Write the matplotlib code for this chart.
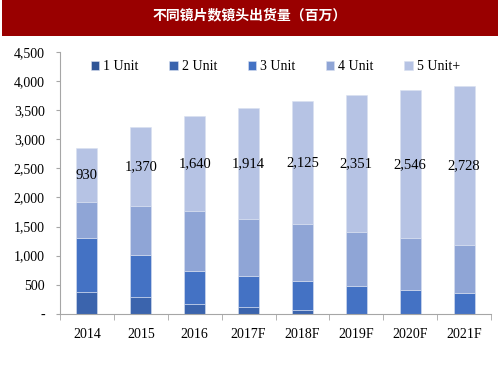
import matplotlib
import matplotlib.pyplot as plt
import numpy as np
from matplotlib.patches import Rectangle

matplotlib.use('Agg')

years = ['2014', '2015', '2016', '2017F', '2018F', '2019F', '2020F', '2021F']
series_names = ['1 Unit', '2 Unit', '3 Unit', '4 Unit', '5 Unit+']
unit1 = [0, 0, 0, 0, 0, 0, 0, 0]
unit2 = [370, 290, 170, 115, 60, 0, 0, 0]
unit3 = [937, 715, 565, 539, 503, 482, 408, 351]
unit4 = [609, 843, 1032, 970, 975, 929, 889, 831]
unit5 = [930, 1370, 1640, 1914, 2125, 2351, 2546, 2728]
colors = ['#2F5597', '#3B64AD', '#4472C4', '#8FA5D6', '#B6C3E4']

yticks = [0, 500, 1000, 1500, 2000, 2500, 3000, 3500, 4000, 4500]
ytick_labels = ['-', '500', '1,000', '1,500', '2,000', '2,500', '3,000', '3,500', '4,000', '4,500']

plt.rcParams['font.family'] = ['Liberation Serif', 'DejaVu Serif']

fig = plt.figure(figsize=(5, 3.75), dpi=100)
ax = fig.add_axes([0.12, 0.1635, 0.862, 0.6975])

# red title banner
fig.patches.append(Rectangle((0.004, 0.904), 0.992, 0.096, transform=fig.transFigure,
                             facecolor='#990000', edgecolor='none'))
fig.text(0.5, 0.958, '不同镜片数镜头出货量（百万）', color='white', fontsize=10,
         fontweight='bold', ha='center', va='center',
         family=['Noto Sans CJK SC', 'DejaVu Sans'])

x = np.arange(len(years))
bottom = np.zeros(len(years))
for name, vals, c in zip(series_names, [unit1, unit2, unit3, unit4, unit5], colors):
    ax.bar(x, vals, 0.39, bottom=bottom, color=c, label=name,
           edgecolor='#D9E0F0', linewidth=0.4)
    bottom += np.array(vals)

# labels for 5 Unit+ segment
base = np.array(unit1) + np.array(unit2) + np.array(unit3) + np.array(unit4)
for xi, b, v in zip(x, base, unit5):
    ax.text(xi, b + v / 2, f'{v:,}', ha='center', va='center', fontsize=10.5)

ax.set_xlim(-0.5, len(years) - 0.5)
ax.set_ylim(0, 4500)
ax.set_yticks(yticks)
ax.set_yticklabels(ytick_labels, fontsize=10)
ax.set_xticks(x)
ax.set_xticklabels(years, fontsize=10)
ax.tick_params(axis='x', length=0, pad=10)
ax.set_xticks(np.arange(len(years) + 1) - 0.5, minor=True)
ax.tick_params(axis='x', which='minor', length=4, color='#A6A6A6')
ax.tick_params(axis='y', length=3, color='#A6A6A6', pad=8)

for s in ['top', 'right']:
    ax.spines[s].set_visible(False)
for s in ['left', 'bottom']:
    ax.spines[s].set_color('#A6A6A6')

ax.legend(loc='upper center', bbox_to_anchor=(0.5, 1.0), ncol=5, frameon=False,
          fontsize=10, handlelength=0.6, handleheight=0.6, handletextpad=0.3,
          columnspacing=2.2, borderaxespad=0.2)

fig.savefig('out.png', dpi=100)
